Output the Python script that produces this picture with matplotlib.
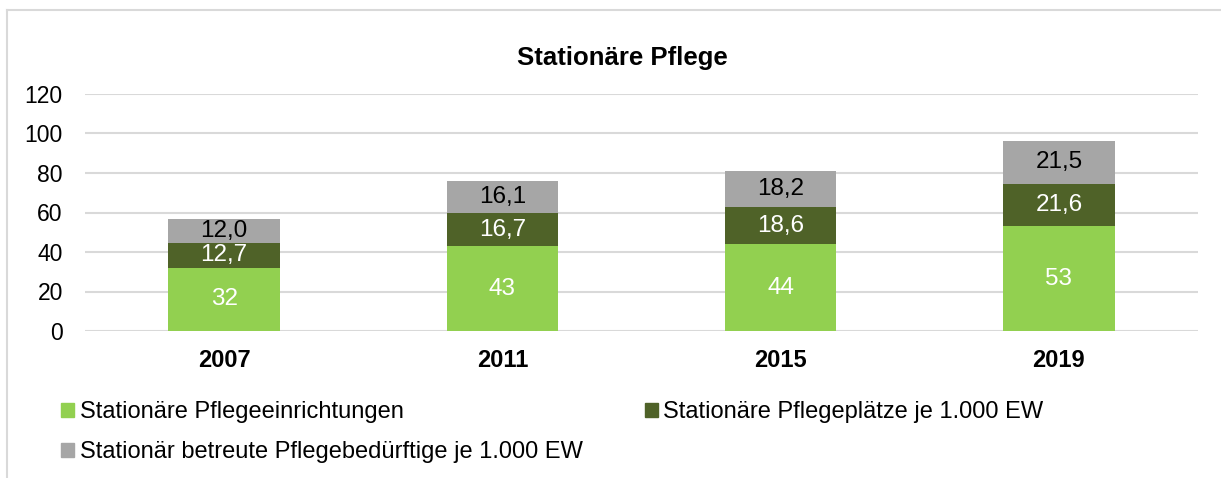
import matplotlib.pyplot as plt
from matplotlib.patches import Patch
from matplotlib.lines import Line2D

plt.rcParams['font.family'] = ['Liberation Sans', 'DejaVu Sans']

jahre = ['2007', '2011', '2015', '2019']
einrichtungen = [32, 43, 44, 53]
plaetze = [12.7, 16.7, 18.6, 21.6]
betreute = [12.0, 16.1, 18.2, 21.5]

lbl_einr = ['32', '43', '44', '53']
lbl_plaetze = ['12,7', '16,7', '18,6', '21,6']
lbl_betreute = ['12,0', '16,1', '18,2', '21,5']

namen = ['Stationäre Pflegeeinrichtungen',
         'Stationäre Pflegeplätze je 1.000 EW',
         'Stationär betreute Pflegebedürftige je 1.000 EW']
farben = ['#92d050', '#4f6228', '#a6a6a6']

fig = plt.figure(figsize=(12.21, 4.78), dpi=100)
ax = fig.add_axes([85 / 1221, 1 - 331 / 478, 1113 / 1221, 237 / 478])

x = range(len(jahre))
w = 0.4
b1 = ax.bar(x, einrichtungen, w, color=farben[0])
unten2 = einrichtungen
b2 = ax.bar(x, plaetze, w, bottom=unten2, color=farben[1])
unten3 = [a + b for a, b in zip(einrichtungen, plaetze)]
b3 = ax.bar(x, betreute, w, bottom=unten3, color=farben[2])

ax.bar_label(b1, labels=lbl_einr, label_type='center', color='white', fontsize=17.5)
ax.bar_label(b2, labels=lbl_plaetze, label_type='center', color='white', fontsize=17.5)
ax.bar_label(b3, labels=lbl_betreute, label_type='center', color='black', fontsize=17.5)

ax.set_xlim(-0.5, 3.5)
ax.set_ylim(0, 120)
ax.set_yticks(range(0, 121, 20))
ax.set_xticks(list(x))
ax.set_xticklabels(jahre, fontweight='bold', fontsize=17)
ax.tick_params(axis='y', labelsize=16.5, length=0, pad=16)
ax.tick_params(axis='x', length=0, pad=13)
ax.yaxis.grid(True, color='#d9d9d9', linewidth=1.5)
ax.set_axisbelow(True)
for s in ax.spines.values():
    s.set_visible(False)

fig.text(622 / 1221, 1 - 58 / 478, 'Stationäre Pflege', ha='center', va='center',
         fontsize=18.5, fontweight='bold')

handles = [Patch(color=farben[0]), Patch(color=farben[2]), Patch(color=farben[1])]
labels = [namen[0], namen[2], namen[1]]
fig.legend(handles, labels, ncol=2, loc='upper left', bbox_to_anchor=(52 / 1221, 1 - 392 / 478),
           frameon=False, fontsize=17, handlelength=0.55, handleheight=0.55,
           handletextpad=0.25, columnspacing=2.6, labelspacing=0.75, borderaxespad=0)

# Rahmen oben und links
fig.add_artist(Line2D([7 / 1221, 1], [1 - 10 / 478, 1 - 10 / 478], color='#d9d9d9', lw=1.5))
fig.add_artist(Line2D([7 / 1221, 7 / 1221], [0, 1 - 10 / 478], color='#d9d9d9', lw=1.5))

fig.savefig('out.png', dpi=100)
